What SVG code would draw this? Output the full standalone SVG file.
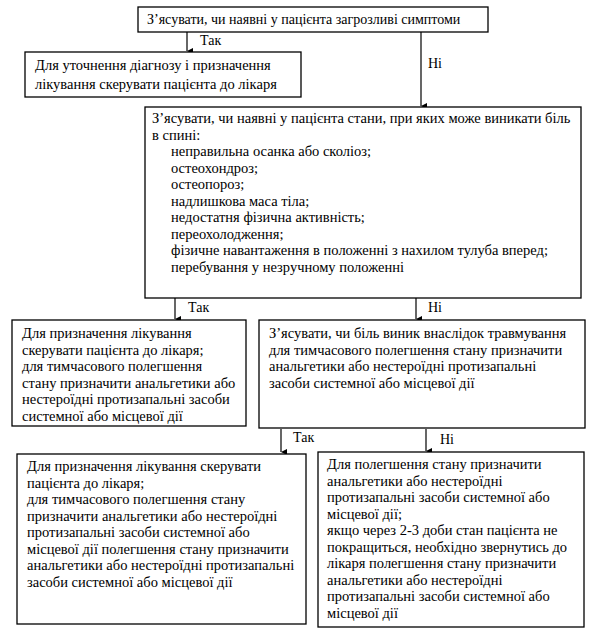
<svg xmlns="http://www.w3.org/2000/svg" width="600" height="632" viewBox="0 0 600 632">
<defs>
<marker id="ah" markerWidth="8" markerHeight="8" refX="4" refY="7" orient="auto-start-reverse" markerUnits="userSpaceOnUse">
<path d="M1,1 L7,1 L4,7 Z" fill="#000"/>
</marker>
<style>
.box{fill:#fff;stroke:#000;stroke-width:1.3}
.t{font-family:"Liberation Serif","Times New Roman","DejaVu Serif",serif;font-size:14.5px;fill:#000}
.s{font-size:14px}
.c{stroke:#000;stroke-width:1.2;fill:none}
</style>
</defs>
<rect width="600" height="632" fill="#fff"/>
<g id="connectors">
<line class="c" x1="187" y1="32" x2="187" y2="51" marker-end="url(#ah)"/>
<text class="t s" x="200" y="45">Так</text>
<line class="c" x1="421" y1="32" x2="421" y2="106" marker-end="url(#ah)"/>
<text class="t s" x="428" y="68">Ні</text>
<line class="c" x1="175" y1="298" x2="175" y2="319" marker-end="url(#ah)"/>
<text class="t s" x="188" y="312">Так</text>
<line class="c" x1="416" y1="298" x2="416" y2="319" marker-end="url(#ah)"/>
<text class="t s" x="428" y="312">Ні</text>
<line class="c" x1="281" y1="429" x2="281" y2="452" marker-end="url(#ah)"/>
<text class="t s" x="293" y="442">Так</text>
<line class="c" x1="426" y1="429" x2="426" y2="451" marker-end="url(#ah)"/>
<text class="t s" x="440" y="444">Ні</text>
</g>
<g id="n1">
<rect class="box" x="138" y="7" width="350" height="25"/>
<text class="t s" x="147" y="24">З’ясувати, чи наявні у пацієнта загрозливі симптоми</text>
</g>
<g id="n2">
<rect class="box" x="25" y="52" width="276" height="45"/>
<text class="t" x="35" y="70">Для уточнення діагнозу і призначення</text>
<text class="t" x="35" y="89">лікування скерувати пацієнта до лікаря</text>
</g>
<g id="n3">
<rect class="box" x="145" y="107" width="436" height="191"/>
<text class="t" x="152" y="123">З’ясувати, чи наявні у пацієнта стани, при яких може виникати біль</text>
<text class="t" x="152" y="140">в спині:</text>
<text class="t" x="171" y="156">неправильна осанка або сколіоз;</text>
<text class="t" x="171" y="173">остеохондроз;</text>
<text class="t" x="171" y="189">остеопороз;</text>
<text class="t" x="171" y="206">надлишкова маса тіла;</text>
<text class="t" x="171" y="222">недостатня фізична активність;</text>
<text class="t" x="171" y="239">переохолодження;</text>
<text class="t" x="171" y="255">фізичне навантаження в положенні з нахилом тулуба вперед;</text>
<text class="t" x="171" y="272">перебування у незручному положенні</text>
</g>
<g id="n4">
<rect class="box" x="12" y="320" width="234" height="106"/>
<text class="t" x="22" y="338">Для призначення лікування</text>
<text class="t" x="22" y="355">скерувати пацієнта до лікаря;</text>
<text class="t" x="22" y="371">для тимчасового полегшення</text>
<text class="t" x="22" y="388">стану призначити анальгетики або</text>
<text class="t" x="22" y="404">нестероїдні протизапальні засоби</text>
<text class="t" x="22" y="421">системної або місцевої дії</text>
</g>
<g id="n5">
<rect class="box" x="259" y="320" width="326" height="108"/>
<text class="t" x="269" y="338">З’ясувати, чи біль виник внаслідок травмування</text>
<text class="t" x="269" y="355">для тимчасового полегшення стану призначити</text>
<text class="t" x="269" y="371">анальгетики або нестероїдні протизапальні</text>
<text class="t" x="269" y="388">засоби системної або місцевої дії</text>
</g>
<g id="n6">
<rect class="box" x="17" y="454" width="289" height="170"/>
<text class="t" x="27" y="471">Для призначення лікування скерувати</text>
<text class="t" x="27" y="488">пацієнта до лікаря;</text>
<text class="t" x="27" y="504">для тимчасового полегшення стану</text>
<text class="t" x="27" y="521">призначити анальгетики або нестероїдні</text>
<text class="t" x="27" y="537">протизапальні засоби системної або</text>
<text class="t" x="27" y="554">місцевої дії полегшення стану призначити</text>
<text class="t" x="27" y="570">анальгетики або нестероїдні протизапальні</text>
<text class="t" x="27" y="587">засоби системної або місцевої дії</text>
</g>
<g id="n7">
<rect class="box" x="318" y="452" width="266" height="175"/>
<text class="t" x="327" y="469">Для полегшення стану призначити</text>
<text class="t" x="327" y="486">анальгетики або нестероїдні</text>
<text class="t" x="327" y="502">протизапальні засоби системної або</text>
<text class="t" x="327" y="519">місцевої дії;</text>
<text class="t" x="327" y="535">якщо через 2-3 доби стан пацієнта не</text>
<text class="t" x="327" y="552">покращиться, необхідно звернутись до</text>
<text class="t" x="327" y="568">лікаря полегшення стану призначити</text>
<text class="t" x="327" y="585">анальгетики або нестероїдні</text>
<text class="t" x="327" y="601">протизапальні засоби системної або</text>
<text class="t" x="327" y="618">місцевої дії</text>
</g>
</svg>
